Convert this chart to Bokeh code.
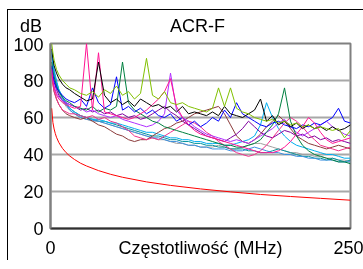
from bokeh.plotting import figure
from bokeh.layouts import column
from bokeh.models import FixedTicker, Div
from bokeh.embed import file_html
from bokeh.resources import INLINE

# ---------------- data ----------------
FREQ = [1, 2, 3, 5, 7, 10, 13, 16, 20,
        25, 30, 35, 40, 45, 50, 55, 60, 65, 70, 75,
        80, 85, 90, 95, 100, 105, 110, 115, 120, 125,
        130, 135, 140, 145, 150, 155, 160, 165, 170, 175,
        180, 185, 190, 195, 200, 205, 210, 215, 220, 225,
        230, 235, 240, 245, 250]

BLACK = [97, 92, 88, 84, 81, 78, 76, 75, 73,
         71, 69, 70, 90, 72, 68, 70, 67, 69, 66, 70,
         68, 66, 67, 65, 66, 63, 66, 62, 63, 62,
         61, 63, 61, 66, 62, 61, 60, 62, 64, 70,
         58, 61, 56, 58, 55, 57, 54, 56, 54, 55,
         53, 55, 53, 54, 56]
YELLOWGREEN = [100, 95, 91, 86, 83, 80, 78, 76, 75,
               73, 72, 74, 71, 75, 73, 77, 72, 74, 70, 73,
               92, 72, 70, 74, 68, 67, 68, 66, 65, 64,
               63, 65, 76, 66, 76, 65, 63, 62, 60, 59,
               58, 59, 57, 58, 56, 57, 55, 56, 54, 55,
               54, 53, 54, 49, 53]
DARKGREEN = [90, 85, 82, 77, 74, 71, 69, 68, 66,
             65, 64, 66, 63, 65, 64, 66, 90, 68, 64, 62,
             60, 58, 57, 55, 54, 53, 52, 51, 50, 49,
             48, 47, 46, 45, 45, 44, 44, 45, 46, 48,
             52, 56, 62, 76, 58, 50, 45, 42, 40, 39,
             38, 37, 36, 36, 35]
HOTPINK = [86, 80, 76, 72, 70, 68, 67, 66, 65,
           66, 100, 64, 95, 63, 62, 61, 60, 59, 60, 62,
           64, 67, 70, 74, 81, 66, 60, 56, 53, 51,
           50, 49, 48, 47, 46, 45, 44, 43, 42, 41,
           41, 41, 42, 44, 47, 51, 55, 60, 57, 52,
           48, 46, 47, 48, 49]
PINK = [84, 78, 74, 70, 67, 64, 63, 62, 62,
        61, 60, 61, 59, 60, 58, 57, 55, 53, 50, 49,
        48, 49, 48, 50, 52, 54, 56, 58, 57, 55,
        52, 50, 47, 45, 43, 41, 40, 39, 40, 42,
        45, 49, 53, 57, 60, 58, 55, 51, 48, 45,
        44, 43, 42, 43, 44]
VIOLET = [85, 80, 77, 73, 71, 69, 68, 67, 66,
          65, 63, 64, 62, 61, 60, 61, 59, 58, 57, 56,
          55, 56, 58, 62, 84, 64, 60, 58, 55, 53,
          51, 50, 49, 48, 47, 48, 47, 46, 48, 50,
          52, 54, 57, 59, 55, 52, 50, 52, 54, 56,
          58, 55, 53, 51, 50]
BLUE = [88, 83, 80, 76, 74, 72, 70, 69, 68,
        70, 66, 76, 68, 65, 67, 82, 64, 66, 63, 65,
        62, 64, 61, 60, 62, 58, 60, 56, 58, 55,
        57, 60, 58, 64, 60, 68, 62, 60, 58, 56,
        55, 57, 58, 56, 55, 54, 56, 55, 57, 56,
        58, 60, 65, 58, 57]
PURPLE = [87, 82, 79, 75, 72, 69, 68, 67, 66,
          64, 65, 63, 64, 62, 63, 61, 62, 60, 61, 59,
          60, 62, 64, 66, 63, 61, 58, 56, 54, 52,
          50, 49, 48, 47, 49, 51, 54, 58, 55, 52,
          50, 49, 51, 53, 52, 50, 51, 49, 50, 48,
          49, 47, 48, 47, 46]
BROWN = [84, 78, 74, 70, 67, 64, 62, 61, 60,
         59, 60, 58, 56, 55, 53, 51, 50, 48, 47, 48,
         48, 50, 52, 54, 55, 57, 58, 60, 62, 63,
         64, 65, 66, 62, 56, 50, 47, 46, 48, 51,
         55, 58, 61, 58, 54, 50, 48, 46, 45, 44,
         43, 44, 45, 44, 43]
CYAN = [96, 90, 86, 80, 75, 71, 68, 65, 63,
        61, 60, 59, 59, 58, 57, 57, 56, 55, 54, 53,
        52, 52, 51, 50, 49, 49, 48, 48, 47, 47,
        46, 46, 46, 45, 45, 46, 47, 48, 50, 56,
        68, 60, 54, 50, 47, 45, 44, 43, 42, 41,
        40, 40, 39, 38, 38]
STEELBLUE = [94, 88, 84, 78, 74, 70, 67, 64, 62,
             60, 59, 58.5, 58, 57, 56, 55, 54, 53, 52, 51,
             50, 49, 49, 48, 47, 47, 46, 45, 45, 44,
             44, 43, 43, 43, 42, 42, 42, 43, 44, 43,
             42, 41, 41, 40, 40, 39, 39, 38, 38, 37,
             37, 37, 36, 36, 36]
TEAL = [95, 89, 85, 79, 75, 71, 67, 65, 63,
        61, 60, 59, 58, 58, 57, 56, 55, 54, 53, 52,
        51, 50, 50, 49, 48, 48, 47, 47, 46, 46,
        45, 45, 44, 44, 43, 43, 43, 42, 42, 41,
        41, 42, 43, 42, 41, 40, 39, 39, 38, 38,
        37, 38, 37, 36, 37]
GRAY = [93, 87, 83, 77, 73, 69, 66, 64, 62,
        60, 59, 58, 58, 57, 56, 55, 54, 53, 52, 51,
        50, 49, 48, 48, 47, 46, 46, 45, 45, 44,
        44, 44, 45, 44, 43, 43, 44, 45, 46, 46,
        45, 44, 43, 42, 41, 41, 40, 40, 39, 39,
        38, 38, 37, 37, 36]

LIMIT_F = [1, 2, 3, 4, 5, 7, 10, 13, 16, 20, 25, 30, 40, 50, 60, 80,
           100, 125, 150, 175, 200, 225, 250]
LIMIT_V = [65.0, 57.3, 53.8, 51.3, 49.3, 46.4, 43.3, 41.0, 39.2, 37.3, 35.3,
           33.8, 31.3, 29.3, 27.7, 25.2, 23.3, 21.4, 19.8, 18.4, 17.3, 16.3, 15.3]

Y_TICKS = [0, 20, 40, 60, 80, 100]
X_TICKS = [0, 125, 250]
X_TICK_LABELS = {0: "0", 125: "Częstotliwość (MHz)", 250: "250"}
TITLE = "ACR-F"
Y_UNIT = "dB"

SERIES = [
    (GRAY, "#A0A0A0"),
    (TEAL, "#00939B"),
    (STEELBLUE, "#3A8FE0"),
    (CYAN, "#00AEEF"),
    (BROWN, "#8B3A3A"),
    (PURPLE, "#80009F"),
    (PINK, "#F0308A"),
    (VIOLET, "#B030FF"),
    (DARKGREEN, "#008040"),
    (BLUE, "#0000FF"),
    (HOTPINK, "#FF1493"),
    (BLACK, "#000000"),
    (YELLOWGREEN, "#80C000"),
]
for s, _ in SERIES:
    assert len(s) == len(FREQ), len(s)

FONT = "Liberation Sans"
W = 356          # canvas width (43 + 300 + 13)
HEAD_H = 37      # header strip holding "dB" and the title

# ---------------- header strip (title row, real HTML text) ----------------
span = ("position:absolute;top:17px;font-family:'Liberation Sans',Arial,sans-serif;"
        "font-size:18px;line-height:1;color:#000;white-space:nowrap;")
head = Div(
    text=(f'<span style="{span}left:0px;width:35px;text-align:right;">{Y_UNIT}</span>'
          f'<span style="{span}left:140.5px;width:100px;text-align:center;">{TITLE}</span>'),
    width=W, height=HEAD_H, margin=0,
    styles={
        "position": "relative",
        "background-image": "linear-gradient(#000, #000), linear-gradient(#000, #000)",
        "background-size": "100% 1px, 1px 100%",
        "background-position": "0 9px, 0 9px",
        "background-repeat": "no-repeat",
    },
)

# ---------------- main chart ----------------
p = figure(frame_width=300, frame_height=185,
           min_border_left=43, min_border_right=13,
           min_border_top=6, min_border_bottom=32,
           x_range=(0, 250), y_range=(0, 100),
           output_backend="svg", toolbar_location=None,
           background_fill_color="white", border_fill_color=None)
p.title.visible = False
p.styles = {
    "background-image": "linear-gradient(#000, #000)",
    "background-size": "1px 100%",
    "background-position": "0 0",
    "background-repeat": "no-repeat",
}

p.outline_line_color = "#808080"
p.outline_line_width = 2

p.xgrid.visible = False
p.ygrid.ticker = FixedTicker(ticks=Y_TICKS)
p.ygrid.grid_line_color = "#A8A8A8"
p.ygrid.grid_line_width = 2

p.yaxis.ticker = FixedTicker(ticks=Y_TICKS)
p.xaxis.ticker = FixedTicker(ticks=X_TICKS)
p.xaxis.major_label_overrides = X_TICK_LABELS
for ax in (p.xaxis[0], p.yaxis[0]):
    ax.major_tick_out = 0
    ax.major_tick_in = 0
    ax.minor_tick_out = 0
    ax.minor_tick_in = 0
    ax.major_label_text_font = FONT
    ax.major_label_text_font_size = "18px"
    ax.major_label_text_color = "black"
    ax.axis_line_width = 2
p.yaxis.axis_line_color = "#808080"
p.xaxis.axis_line_color = "#303030"
p.yaxis.major_label_standoff = 7
p.xaxis.major_label_standoff = 9

for vals, col in SERIES:
    p.line(FREQ, vals, line_color=col, line_width=1)
p.line(LIMIT_F, LIMIT_V, line_color="#FF0000", line_width=1)

layout = column(head, p, spacing=0)
layout.styles = {"position": "fixed", "left": "7px", "top": "0px"}

open("out.html", "w").write(file_html(layout, INLINE))
